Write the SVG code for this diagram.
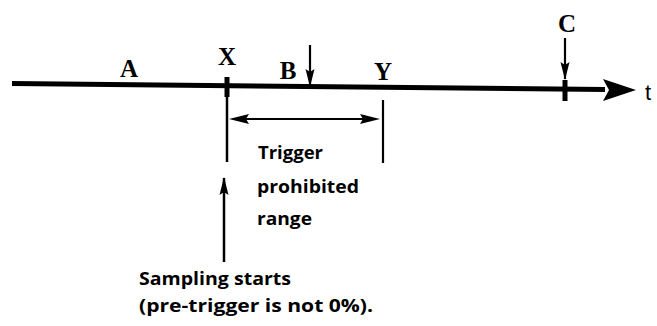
<svg xmlns="http://www.w3.org/2000/svg" width="657" height="326" viewBox="0 0 657 326">
<style>
.lbl{font-family:"Liberation Serif",serif;font-weight:bold;font-size:25px;fill:#000;text-anchor:middle}
.txt{font-family:"Open Sans","Liberation Sans",sans-serif;font-weight:700;font-size:18px;fill:#000}
.ln{stroke:#000;fill:none;stroke-linecap:butt}
</style>
<defs>
<marker id="ah" markerWidth="18" markerHeight="10" refX="17" refY="5" orient="auto" markerUnits="userSpaceOnUse">
<path d="M0,0.5 L18,5 L0,9.5 L3,5 Z" fill="#000"/>
</marker>
</defs>
<g id="connectors">
<path class="ln" d="M12,83.5 L605,89.5" stroke-width="5"/>
<path d="M603,79 L636,90 L603,101 L609,90 Z" fill="#000"/>
<path class="ln" d="M227,77 L227,97" stroke-width="5"/>
<path class="ln" d="M227,95 L227,162" stroke-width="2.5"/>
<path class="ln" d="M383,100 L383,163" stroke-width="2.2"/>
<path class="ln" d="M565,80 L565,101" stroke-width="5"/>
<path class="ln" d="M310,45 L310,86" stroke-width="2.2" marker-end="url(#ah)"/>
<path class="ln" d="M565,38 L565,79" stroke-width="2.2" marker-end="url(#ah)"/>
<path class="ln" d="M245,119 L365,119" stroke-width="2.2"/>
<path d="M229,119 L249,114 L246,119 L249,124 Z" fill="#000"/>
<path d="M380,119 L360,114 L363,119 L360,124 Z" fill="#000"/>
<path class="ln" d="M224,262 L224,178" stroke-width="2.5" marker-end="url(#ah)"/>
</g>
<g id="A"><text class="lbl" x="129" y="77">A</text></g>
<g id="X"><text class="lbl" x="227" y="65">X</text></g>
<g id="B"><text class="lbl" x="288" y="79">B</text></g>
<g id="Y"><text class="lbl" x="383" y="80">Y</text></g>
<g id="C"><text class="lbl" x="567" y="32">C</text></g>
<g id="t"><text x="648" y="100" style="font-family:'Liberation Sans',sans-serif;font-size:22px;text-anchor:middle">t</text></g>
<g id="range-label">
<text class="txt" x="258" y="159" textLength="65" lengthAdjust="spacingAndGlyphs">Trigger</text>
<text class="txt" x="257" y="193" textLength="102" lengthAdjust="spacingAndGlyphs">prohibited</text>
<text class="txt" x="257" y="225" textLength="55" lengthAdjust="spacingAndGlyphs">range</text>
</g>
<g id="sampling-label">
<text class="txt" x="139" y="285" textLength="152" lengthAdjust="spacingAndGlyphs">Sampling starts</text>
<text class="txt" x="139" y="312" textLength="234" lengthAdjust="spacingAndGlyphs">(pre-trigger is not 0%).</text>
</g>
</svg>
